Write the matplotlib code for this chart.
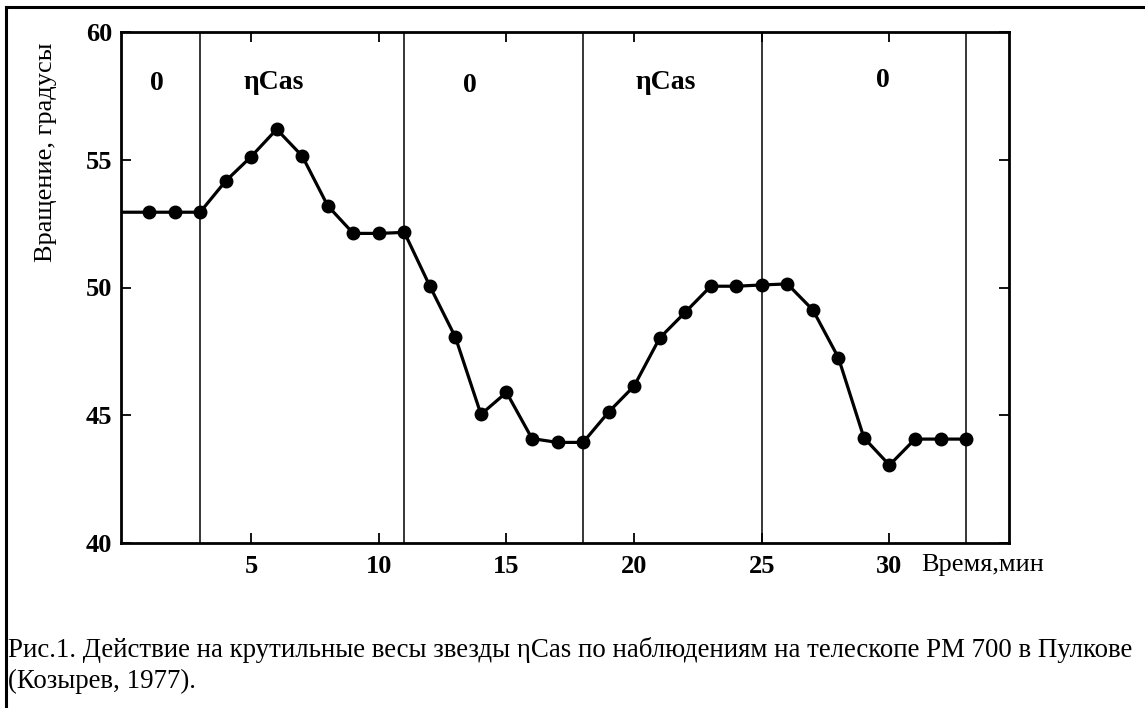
import matplotlib
matplotlib.use("Agg")
import matplotlib.pyplot as plt
from matplotlib.lines import Line2D

plt.rcParams['font.family'] = ['Liberation Serif', 'DejaVu Serif']

# минуты и вращение (градусы), точка 0 - начало линии от оси
minutes = [0, 1, 2, 3, 4, 5, 6, 7, 8, 9, 10, 11, 12, 13, 14, 15, 16, 17,
           18, 19, 20, 21, 22, 23, 24, 25, 26, 27, 28, 29, 30, 31, 32, 33]
rotation = [52.95, 52.95, 52.95, 52.95, 54.17, 55.13, 56.2, 55.15, 53.2, 52.12,
            52.12, 52.16, 50.05, 48.05, 45.03, 45.89, 44.08, 43.93, 43.93,
            45.12, 46.14, 48.02, 49.03, 50.05, 50.05, 50.1, 50.14, 49.12,
            47.25, 44.11, 43.04, 44.06, 44.06, 44.06]

switch_times = [3, 11, 18, 25, 33]
phase_labels = ['0', 'ηCas', '0', 'ηCas', '0']
phase_x = [1.3, 5.9, 13.57, 21.25, 29.75]
phase_y = [58.0, 58.05, 57.9, 58.05, 58.1]

x_ticks = [5, 10, 15, 20, 25, 30]
y_ticks = [40, 45, 50, 55, 60]

fig = plt.figure(figsize=(11.45, 7.08), dpi=100)
ax = fig.add_axes([120.7 / 1145, 1 - 542.7 / 708, 888 / 1145, 510.4 / 708])

for t in switch_times:
    ax.axvline(t, color='black', lw=1.1, zorder=1)

ax.plot(minutes, rotation, color='black', lw=2.3, marker='o', markersize=9,
        markevery=list(range(1, len(minutes))), zorder=3)

for x, y, s in zip(phase_x, phase_y, phase_labels):
    ax.text(x, y, s, ha='center', va='center', fontsize=20, fontweight='bold')

ax.set_xlim(-0.11, 34.67)
ax.set_ylim(40, 60)
ax.set_xticks(x_ticks)
ax.set_yticks(y_ticks)
ax.tick_params(direction='in', length=7, width=1.3, top=True, right=True,
               labelsize=19, pad=6)
ax.tick_params(axis='x', pad=9)
for lab in ax.get_xticklabels() + ax.get_yticklabels():
    lab.set_fontweight('bold')
for sp in ax.spines.values():
    sp.set_linewidth(2.0)

fig.text(46 / 1145, 1 - 152 / 708, 'Вращение, градусы', rotation=90,
         ha='center', va='center', fontsize=19)
fig.text(921 / 1145, 1 - 571 / 708, 'Время,мин', ha='left', va='baseline',
         fontsize=19)

fig.text(8 / 1145, 1 - 657 / 708,
         'Рис.1. Действие на крутильные весы звезды ηCas по наблюдениям '
         'на телескопе РМ 700 в Пулкове',
         ha='left', va='baseline', fontsize=19.4)
fig.text(8 / 1145, 1 - 688 / 708, '(Козырев, 1977).', ha='left',
         va='baseline', fontsize=19.4)

# рамка слева и сверху
fig.add_artist(Line2D([5.5 / 1145, 5.5 / 1145], [0, 1 - 7 / 708],
                      color='black', lw=2.2))
fig.add_artist(Line2D([5.5 / 1145, 1], [1 - 7 / 708, 1 - 7 / 708],
                      color='black', lw=2.2))

fig.savefig('out.png', dpi=100)
